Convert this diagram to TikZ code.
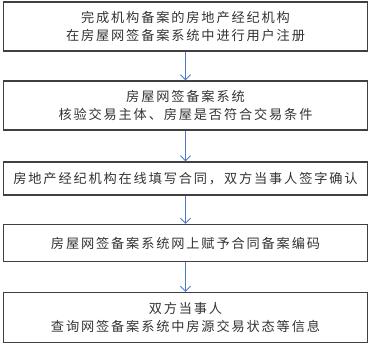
\documentclass[tikz,border=0pt]{standalone}
\usepackage{fontspec}
\newfontfamily\cjk[LetterSpace=14]{Noto Sans CJK SC}
\usetikzlibrary{arrows.meta}
\definecolor{boxline}{HTML}{404040}
\definecolor{arrowblue}{HTML}{4A7BC8}
\definecolor{txt}{HTML}{333333}
\begin{document}
\begin{tikzpicture}[x=1pt,y=-1pt,
  stepbox/.style={draw=boxline,line width=1.3pt,minimum width=364pt,inner sep=0pt,
    font=\cjk\fontsize{13.2}{18.5}\selectfont,text=txt,align=center},
  flow/.style={draw=arrowblue,line width=0.9pt,-{Straight Barb[length=5pt,width=10pt]}}]
\useasboundingbox (0,0) rectangle (371,348);
\node[stepbox,minimum height=49pt] (b1) at (185.5,26.5) {完成机构备案的房地产经纪机构\\在房屋网签备案系统中进行用户注册};
\node[stepbox,minimum height=49pt] (b2) at (185.5,105.5) {房屋网签备案系统\\核验交易主体、房屋是否符合交易条件};
\node[stepbox,minimum height=33pt] (b3) at (185.5,178.5) {房地产经纪机构在线填写合同，双方当事人签字确认};
\node[stepbox,minimum height=37pt] (b4) at (185.5,243) {房屋网签备案系统网上赋予合同备案编码};
\node[stepbox,minimum height=50pt] (b5) at (185.5,317.5) {双方当事人\\查询网签备案系统中房源交易状态等信息};
\draw[flow] (b1) -- (b2);
\draw[flow] (b2) -- (b3);
\draw[flow] (b3) -- (b4);
\draw[flow] (b4) -- (b5);
\end{tikzpicture}
\end{document}
